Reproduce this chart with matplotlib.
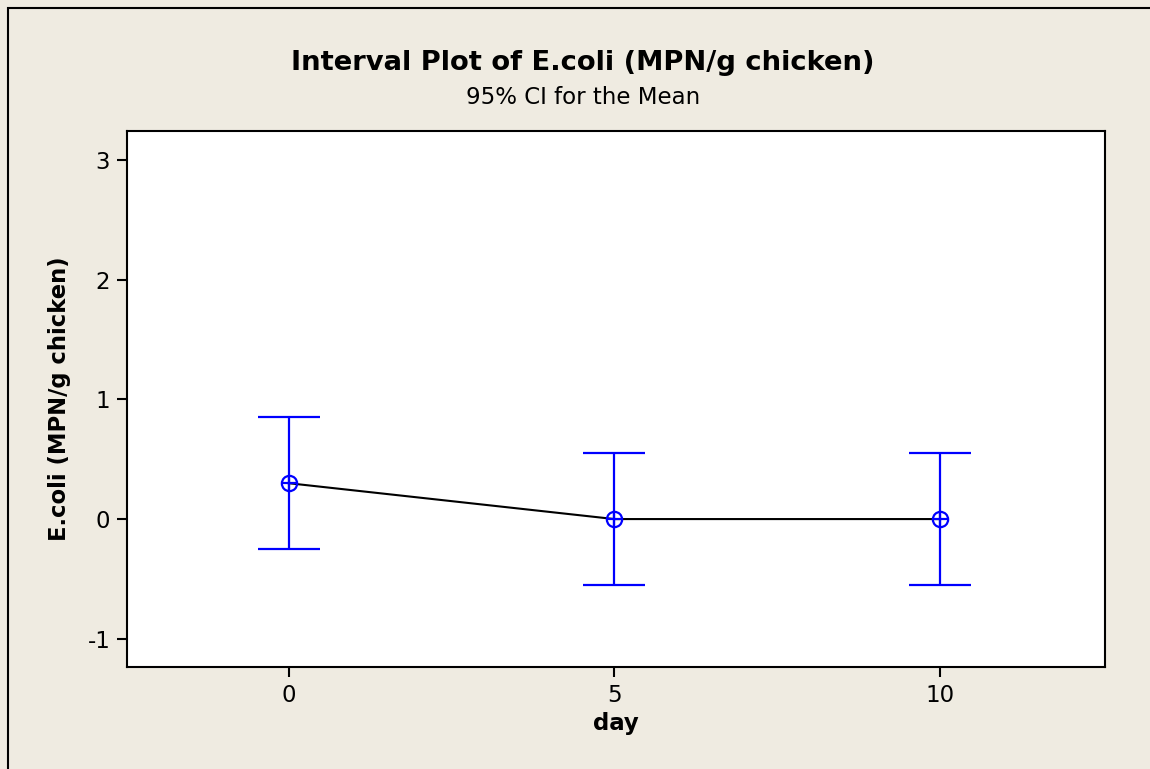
import numpy as np
import matplotlib
matplotlib.use("Agg")
import matplotlib.pyplot as plt
from matplotlib.patches import Rectangle

# data
days = [0, 5, 10]
means = [0.30, 0.0, 0.0]
ci_upper = [0.85, 0.55, 0.55]
ci_lower = [-0.25, -0.55, -0.55]
y_ticks = [-1, 0, 1, 2, 3]
y_labels = ["-1", "0", "1", "2", "3"]
x_ticks = [0, 5, 10]

bg = "#EFEBE1"
blue = "#0000FF"

plt.rcParams['font.family'] = ['DejaVu Sans']

fig = plt.figure(figsize=(11.5, 7.69), dpi=100, facecolor=bg)
ax = fig.add_axes([0.1104, 0.1326, 0.8505, 0.697])

means = np.array(means)
err = [means - np.array(ci_lower), np.array(ci_upper) - means]

# connect line
ax.plot(days, means, color="black", lw=1.5, zorder=2)
# intervals
ax.errorbar(days, means, yerr=err, fmt="none", ecolor=blue, elinewidth=1.6,
            capsize=22, capthick=1.6, zorder=3)
ax.plot(days, means, "o", ms=11, mfc="none", mec=blue, mew=1.6, zorder=4)
ax.plot(days, means, "+", ms=11, mec=blue, mew=1.6, zorder=4)

ax.set_xlim(-2.48, 12.53)
ax.set_ylim(-1.237, 3.244)
ax.set_xticks(x_ticks)
ax.set_yticks(y_ticks)
ax.set_yticklabels(y_labels)
ax.tick_params(axis="both", direction="out", length=7, width=1.5,
               labelsize=16.5, pad=5, colors="black")
for s in ax.spines.values():
    s.set_linewidth(1.5)

ax.set_xlabel("day", fontsize=16.5, fontweight="bold", labelpad=4)
ax.set_ylabel("E.coli (MPN/g chicken)", fontsize=16.3, fontweight="bold", labelpad=11.5)

fig.text(0.507, 0.918, "Interval Plot of E.coli (MPN/g chicken)",
         ha="center", va="center", fontsize=19.7, fontweight="bold")
fig.text(0.507, 0.873, "95% CI for the Mean", ha="center", va="center", fontsize=16.5)

# outer frame (only left/top visible in the crop)
fig.patches.append(Rectangle((8 / 1150, -0.1), 1.2, 1 - 8 / 769 + 0.1,
                             transform=fig.transFigure, fill=False,
                             edgecolor="black", lw=1.5, zorder=0))

fig.savefig("out.png", dpi=100, facecolor=bg)
